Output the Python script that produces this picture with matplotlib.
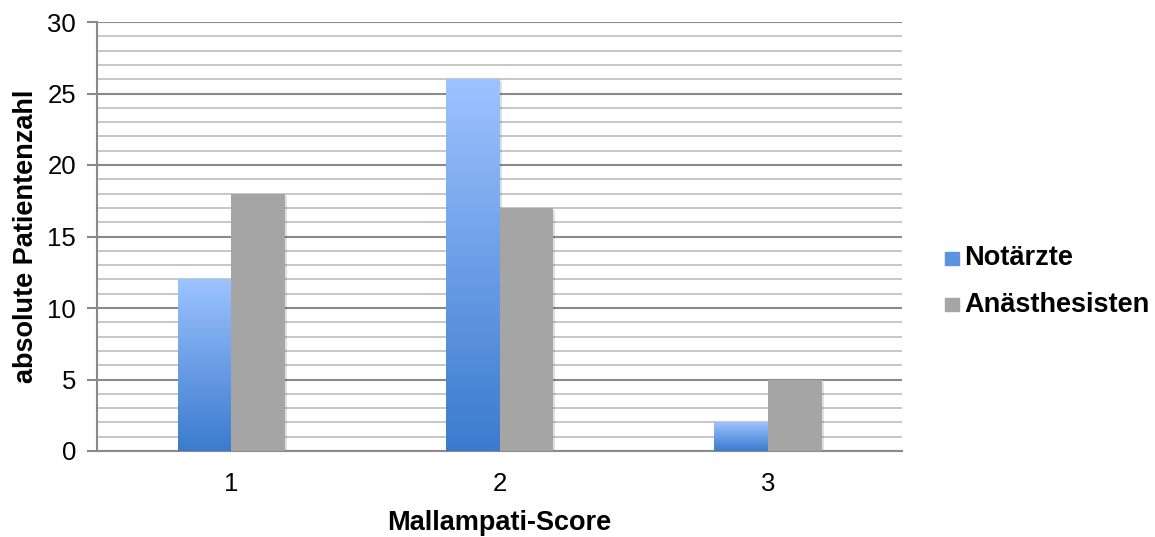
import numpy as np
import matplotlib.pyplot as plt
from matplotlib.colors import LinearSegmentedColormap
from matplotlib.patches import Rectangle

plt.rcParams['font.family'] = ['Liberation Sans', 'DejaVu Sans']

categories = ['1', '2', '3']
notaerzte = [12, 26, 2]
anaesthesisten = [18, 17, 5]
series_names = ['Notärzte', 'Anästhesisten']

blue_grad = LinearSegmentedColormap.from_list('blue_grad', ['#3b7bce', '#6b9ee6', '#9dc3ff'])
gray_color = '#a5a5a5'

W, H = 1155, 537
fig = plt.figure(figsize=(W / 100, H / 100), dpi=100)
ax = fig.add_axes([97 / W, 1 - 451 / H, (902 - 97) / W, (451 - 22) / H])

x = np.arange(1, len(categories) + 1)
w = 0.2

gradient = np.linspace(0, 1, 256).reshape(-1, 1)
for xi, v in zip(x, notaerzte):
    # soft shadow behind bar
    ax.add_patch(Rectangle((xi - w + 0.008, -0.15), w, v, color='#000000', alpha=0.12,
                           zorder=2, lw=0))
    ax.imshow(gradient, cmap=blue_grad, origin='lower', aspect='auto',
              extent=(xi - w, xi, 0, v), zorder=3)
for xi, v in zip(x, anaesthesisten):
    ax.add_patch(Rectangle((xi + 0.008, -0.15), w, v, color='#000000', alpha=0.12,
                           zorder=2, lw=0))
    ax.bar(xi, v, width=w, align='edge', color=gray_color, zorder=3, lw=0)

ax.set_xlim(0.5, 3.5)
ax.set_ylim(0, 30)
ax.set_yticks(range(0, 31, 5))
ax.set_yticks(range(0, 31), minor=True)
ax.set_xticks(x)
ax.set_xticklabels(categories)

ax.grid(axis='y', which='major', color='#8a8a8a', lw=1.5, zorder=0)
ax.grid(axis='y', which='minor', color='#bdbdbd', lw=1.2, zorder=0)
for s in ['top', 'right']:
    ax.spines[s].set_visible(False)
ax.spines['left'].set_color('#8a8a8a')
ax.spines['left'].set_linewidth(1.5)
ax.spines['bottom'].set_color('#8a8a8a')
ax.spines['bottom'].set_linewidth(1.5)

ax.tick_params(axis='y', which='major', length=7, width=1.5, color='#8a8a8a',
               labelsize=18.5, pad=8)
ax.tick_params(axis='y', which='minor', length=0)
ax.tick_params(axis='x', length=0, labelsize=18.5, pad=15)

ax.set_xlabel('Mallampati-Score', fontsize=19.5, fontweight='bold', labelpad=10)
ax.set_ylabel('absolute Patientenzahl', fontsize=19.5, fontweight='bold', labelpad=6)

# legend entries
fig.patches.append(Rectangle((945 / W, 1 - 265 / H), 14 / W, 13 / H,
                             transform=fig.transFigure, color='#5e93e0', figure=fig))
fig.patches.append(Rectangle((945 / W, 1 - 311 / H), 14 / W, 13 / H,
                             transform=fig.transFigure, color=gray_color, figure=fig))
fig.text(964 / W, 1 - 258 / H, series_names[0], fontsize=19.5, fontweight='bold',
         va='center', ha='left')
fig.text(964 / W, 1 - 305 / H, series_names[1], fontsize=19.5, fontweight='bold',
         va='center', ha='left')

fig.savefig('out.png', dpi=100)
